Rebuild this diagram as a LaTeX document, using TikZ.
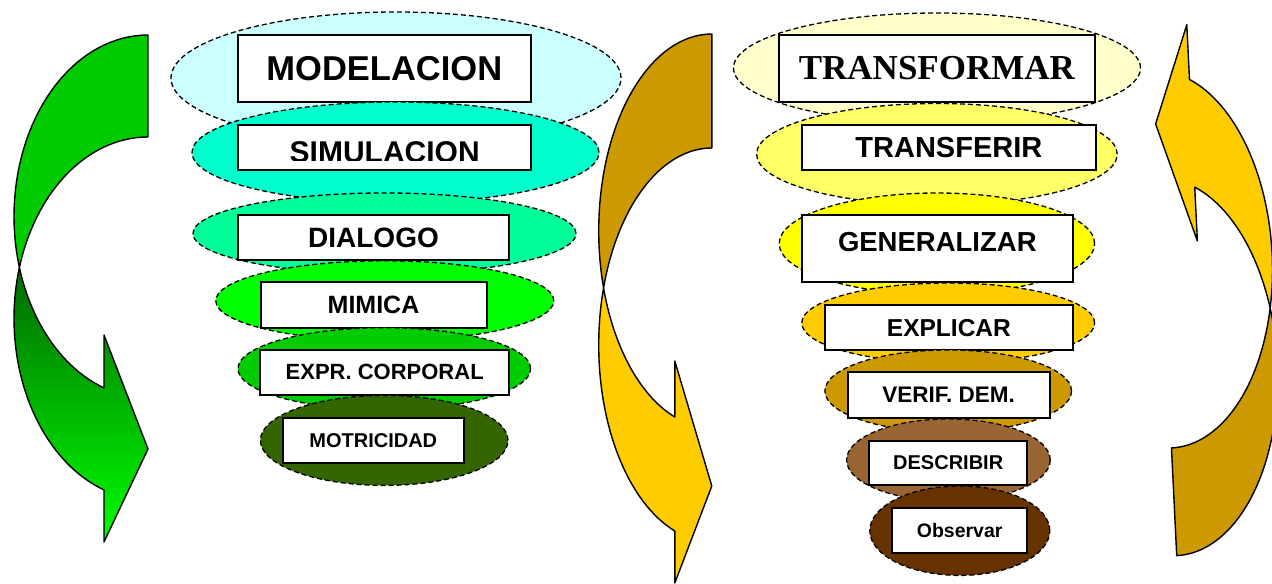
\documentclass[tikz,border=0pt]{standalone}
\usepackage{fontspec}
\setmainfont{Liberation Sans}
\newfontfamily\romana{Liberation Serif}
\usetikzlibrary{shapes.geometric}

\definecolor{celeste}{HTML}{CCFFFF}
\definecolor{turquesa}{HTML}{00FFCC}
\definecolor{menta}{HTML}{00FF99}
\definecolor{verde}{HTML}{00FF00}
\definecolor{verdemedio}{HTML}{00CC00}
\definecolor{oliva}{HTML}{336600}
\definecolor{verdeoscuro}{HTML}{006A00}
\definecolor{crema}{HTML}{FFFFCC}
\definecolor{amarilloclaro}{HTML}{FFFF66}
\definecolor{amarillo}{HTML}{FFFF00}
\definecolor{oro}{HTML}{FFCC00}
\definecolor{ocre}{HTML}{CC9900}
\definecolor{cafe}{HTML}{996633}
\definecolor{marron}{HTML}{663300}

\newcommand{\tam}[1]{\fontsize{#1bp}{#1bp}\selectfont\bfseries}

\begin{document}
\begin{tikzpicture}[x=1bp,y=-1bp,
  oval/.style={ellipse,draw,dash pattern=on 5bp off 3bp,line width=1.3bp,inner sep=0pt},
  caja/.style={rectangle,draw,fill=white,line width=2bp,inner sep=0pt},
  flecha/.style={draw,line width=1.4bp,line join=round},
  arco/.style={domain=#1,samples=40,variable=\t}]
\useasboundingbox (0,0) rectangle (1272,584);

% flecha verde
\draw[flecha,top color=verdeoscuro,bottom color=verde]
  plot[arco=196.3:109.17] ({148+134*cos(\t)},{318.5+181.5*sin(\t)})
  -- (104,542) -- (148,449) -- (104,335) -- (104,387.9)
  -- plot[arco=109.17:163.7] ({148+134*cos(\t)},{216.5+181.5*sin(\t)}) -- cycle;
\draw[flecha,fill=verdemedio]
  plot[arco=270:163.7] ({148+134*cos(\t)},{216.5+181.5*sin(\t)})
  -- plot[arco=196.3:270] ({148+134*cos(\t)},{318.5+181.5*sin(\t)}) -- cycle;

% flecha amarilla izquierda
\draw[flecha,fill=oro]
  plot[arco=196.83:109.09] ({711.8+113.1*cos(\t)},{344.9+196.9*sin(\t)})
  -- (674.8,583) -- (711.8,486) -- (674.8,361) -- (674.8,417)
  -- plot[arco=109.09:163.17] ({711.8+113.1*cos(\t)},{230.9+196.9*sin(\t)}) -- cycle;
\draw[flecha,fill=ocre]
  plot[arco=270:163.17] ({711.8+113.1*cos(\t)},{230.9+196.9*sin(\t)})
  -- plot[arco=196.83:270] ({711.8+113.1*cos(\t)},{344.9+196.9*sin(\t)}) -- cycle;

% flecha amarilla derecha
\begin{scope}[rotate around={2.8:(1174,500)}]
\draw[flecha,fill=ocre]
  plot[arco=90:-16.59] ({1174+110*cos(\t)},{366.9+188.8*sin(\t)})
  -- plot[arco=16.59:90] ({1174+110*cos(\t)},{259.1+188.8*sin(\t)}) -- cycle;
\draw[flecha,fill=oro]
  plot[arco=16.59:-70.9] ({1174+110*cos(\t)},{259.1+188.8*sin(\t)})
  -- (1210,25.9) -- (1174,123.5) -- (1210,242.4) -- (1210,188.5)
  -- plot[arco=-70.9:-16.59] ({1174+110*cos(\t)},{366.9+188.8*sin(\t)}) -- cycle;
\end{scope}

% columna izquierda
\node[oval,fill=celeste,minimum width=450bp,minimum height=132bp] (l1) at (396,78) {};
\node[caja,minimum width=292.6bp,minimum height=67.1bp,font=\tam{34.5}] (modelacion) at (384.3,68.2) {MODELACION};
\node[oval,fill=turquesa,minimum width=407bp,minimum height=101bp] (l2) at (395.5,152.5) {};
\node[caja,minimum width=292.6bp,minimum height=45.4bp] (simulacion) at (384.3,147.5) {};
\begin{scope}
  \clip (simulacion.north west) rectangle ([yshift=10.7bp]simulacion.south east);
  \node[font=\tam{30},anchor=base] (simulacion-t) at (384.7,162.3) {SIMULACION};
\end{scope}
\node[oval,fill=menta,minimum width=383bp,minimum height=81bp] (l3) at (384.5,233.5) {};
\node[caja,minimum width=271bp,minimum height=45bp,font=\tam{28}] (dialogo) at (373.5,237.5) {DIALOGO};
\node[oval,fill=verde,minimum width=338bp,minimum height=80bp] (l4) at (384.8,300.8) {};
\node[caja,minimum width=226bp,minimum height=45.4bp,font=\tam{25}] (mimica) at (373.5,305) {MIMICA};
\node[oval,fill=verdemedio,minimum width=292.6bp,minimum height=82bp] (l5) at (384.3,368.7) {};
\node[caja,minimum width=248.6bp,minimum height=44.8bp,font=\tam{22}] (expresion) at (384.7,372.4) {EXPR. CORPORAL};
\node[oval,fill=oliva,minimum width=247.6bp,minimum height=90bp] (l6) at (384.2,440.4) {};
\node[caja,minimum width=180.8bp,minimum height=44.8bp,font=\tam{20}] (motricidad) at (373.3,440.6) {MOTRICIDAD};

% columna derecha
\node[oval,fill=crema,minimum width=407bp,minimum height=110bp] (r1) at (937,68) {};
\node[caja,minimum width=315.4bp,minimum height=67.1bp,font=\romana\tam{35}] (transformar) at (936.9,68.2) {TRANSFORMAR};
\node[oval,fill=amarilloclaro,minimum width=360.6bp,minimum height=101.4bp] (r2) at (936.9,154.2) {};
\node[caja,minimum width=294bp,minimum height=45.4bp,font=\tam{29}] (transferir) at (948.9,147.5) {TRANSFERIR};
\node[oval,fill=amarillo,minimum width=315.4bp,minimum height=101.2bp] (r3) at (936.9,243.6) {};
\node[caja,minimum width=271bp,minimum height=67.3bp,text depth=14.4bp,font=\tam{27.5}] (generalizar) at (937.3,248.7) {GENERALIZAR};
\node[oval,fill=oro,minimum width=292.8bp,minimum height=80bp] (r4) at (948.2,323) {};
\node[caja,minimum width=248bp,minimum height=44.7bp,font=\tam{24.5}] (explicar) at (948.9,327.8) {EXPLICAR};
\node[oval,fill=ocre,minimum width=246.6bp,minimum height=82bp] (r5) at (948.2,391) {};
\node[caja,minimum width=202.3bp,minimum height=45.5bp,font=\tam{22.5}] (verificar) at (948.7,395.2) {VERIF. DEM.};
\node[oval,fill=cafe,minimum width=203.6bp,minimum height=82bp] (r6) at (948.4,460) {};
\node[caja,minimum width=157.8bp,minimum height=44.7bp,font=\tam{20}] (describir) at (948.2,463) {DESCRIBIR};
\node[oval,fill=marron,minimum width=180bp,minimum height=89.4bp] (r7) at (959.8,530.7) {};
\node[caja,minimum width=134.8bp,minimum height=44.6bp,font=\tam{19.5}] (observar) at (959.7,530.7) {Observar};
\end{tikzpicture}
\end{document}
